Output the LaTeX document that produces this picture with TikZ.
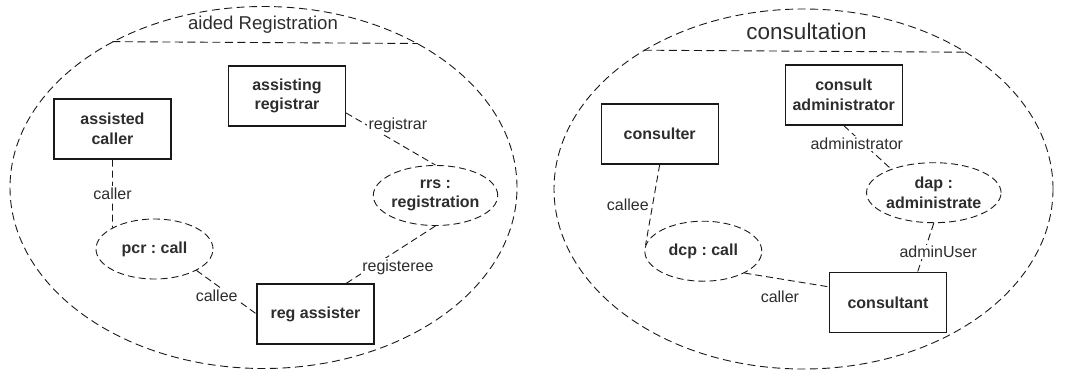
\documentclass[tikz,border=0pt]{standalone}
\usepackage{fontspec}
\setmainfont{Liberation Sans}
\usetikzlibrary{shapes.geometric}
\definecolor{ink}{RGB}{25,25,25}
\definecolor{labelgray}{RGB}{45,45,45}
\frenchspacing
\begin{document}
\begin{tikzpicture}[x=1pt,y=-1pt,
  every node/.style={text=labelgray},
  classbox/.style={draw=ink, line width=1.1pt, minimum width=117pt, minimum height=60pt,
    inner sep=2pt, align=center, font=\fontsize{16}{19.5}\selectfont\bfseries},
  rolebox/.style={draw=ink, ellipse, dash pattern=on 7pt off 4pt, line width=0.9pt,
    minimum width=117pt, minimum height=60pt, inner sep=0pt, align=center,
    font=\fontsize{16}{19.5}\selectfont\bfseries},
  collab/.style={draw=ink, ellipse, dash pattern=on 8pt off 4.5pt, line width=0.9pt, inner sep=0pt},
  divider/.style={draw=ink, dash pattern=on 8pt off 4.5pt, line width=0.9pt},
  link/.style={draw=ink, dash pattern=on 7pt off 4pt, line width=0.9pt},
  rolename/.style={font=\fontsize{16}{19}\selectfont, inner sep=1.5pt},
]
\useasboundingbox (0,0) rectangle (1070,370);

% ---- aided Registration collaboration ----
\node[collab, minimum width=507pt, minimum height=362pt] (reg) at (263.5,187.5) {};
\draw[divider] (reg.136.8) -- (reg.43.2);
\node[font=\fontsize{18.6}{20}\selectfont] (regtitle) at (263,25) {aided Registration};

\node[classbox] (ac) at (112.5,129) {assisted\\caller};
\node[classbox] (ar) at (287,96) {assisting\\registrar};
\node[classbox] (ra) at (315.5,314) {reg assister};
\node[rolebox] (pcr) at (154.5,249) {pcr : call};
\node[rolebox] (rrs) at (435.5,195.5) {rrs :\\registration};

\draw[link] (ac.south) -- node[rolename, fill=white, pos=0.5] {caller} (pcr.153);
\draw[link] (pcr.-27) -- node[rolename, fill=white, pos=0.42, xshift=-5pt, yshift=-7pt] {callee} (ra.west);
\draw[link] (ar.-16) -- node[rolename, fill=white, pos=0.49, xshift=8pt, yshift=13pt] {registrar} (rrs.north);
\draw[link] (rrs.south) -- node[rolename, fill=white, pos=0.51, xshift=8pt, yshift=-12pt] {registeree} (ra.45);

% ---- consultation collaboration ----
\node[collab, minimum width=499pt, minimum height=360pt] (cons) at (803.5,189) {};
\draw[divider] (cons.139.6) -- (cons.40.4);
\node[font=\fontsize{22.5}{24}\selectfont] (constitle) at (806.5,31) {consultation};

\node[classbox] (cs) at (659.7,134) {consulter};
\node[classbox] (ca) at (843.7,95) {consult\\administrator};
\node[classbox] (cn) at (888,302.7) {consultant};
\node[rolebox] (dcp) at (703.3,251.2) {dcp : call};
\node[rolebox] (dap) at (933.8,192.7) {dap :\\administrate};

\draw[link] (cs.south) -- node[rolename, pos=0.5, anchor=east, xshift=-2pt] {callee} (dcp.174);
\draw[link] (dcp.-28) -- node[rolename, pos=0.42, yshift=-18pt] {caller} (cn.165);
\draw[link] (ca.south) -- node[rolename, fill=white, pos=0.34, xshift=-3pt, yshift=-3pt] {administrator} (dap.151);
\draw[link] (dap.south) -- node[rolename, fill=white, pos=0.59, xshift=14pt] {adminUser} (cn.46);
\end{tikzpicture}
\end{document}
